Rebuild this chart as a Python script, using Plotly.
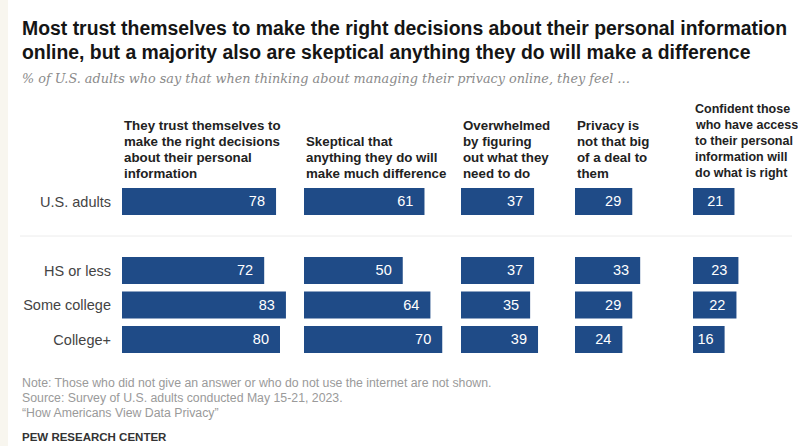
import plotly.graph_objects as go

# ---- data ----
groups = ["U.S. adults", " ", "HS or less", "Some college", "College+"]
headers = [
    "They trust themselves to<br>make the right decisions<br>about their personal<br>information",
    "Skeptical that<br>anything they do will<br>make much difference",
    "Overwhelmed<br>by figuring<br>out what they<br>need to do",
    "Privacy is<br>not that big<br>of a deal to<br>them",
    "Confident those<br>who have access<br>to their personal<br>information will<br>do what is right",
]
trust_self = [78, None, 72, 83, 80]
skeptical = [61, None, 50, 64, 70]
overwhelmed = [37, None, 37, 35, 39]
not_big_deal = [29, None, 33, 29, 24]
confident_others = [21, None, 23, 22, 16]
series = [trust_self, skeptical, overwhelmed, not_big_deal, confident_others]

title_lines = [
    "Most trust themselves to make the right decisions about their personal information",
    "online, but a majority also are skeptical anything they do will make a difference",
]
subtitle = "% of U.S. adults who say that when thinking about managing their privacy online, they feel …"
notes = [
    "Note: Those who did not give an answer or who do not use the internet are not shown.",
    "Source: Survey of U.S. adults conducted May 15-21, 2023.",
    "“How Americans View Data Privacy”",
]
credit = "PEW RESEARCH CENTER"

# ---- layout helpers ----
W, H = 798, 446
def px(p):
    return p / W
def py(p):
    return 1 - p / H

BAR = "#1f4b87"
SANS = "Liberation Sans"
panel_starts = [122, 304, 461, 575, 693]
panel_ends = [302, 459, 573, 691, 792]
header_sizes = [13.3, 13.3, 13.3, 13.3, 12.5]
PPU = 1.975  # pixels per percentage point
LEFT = 20
HEADER_LAST_LINE = 173
HEADER_LINE_H = 16

fig = go.Figure()
for i, vals in enumerate(series):
    ax = "x" if i == 0 else f"x{i+1}"
    fig.add_trace(go.Bar(
        x=vals, y=groups, orientation="h", xaxis=ax, yaxis="y",
        marker=dict(color=BAR, line=dict(width=0)),
        texttemplate="%{x}\u00a0\u00a0", textposition="inside",
        insidetextanchor="end",
        textfont=dict(color="white", size=14.5, family=SANS),
        hoverinfo="skip", showlegend=False,
    ))

layout_axes = {}
for i, (s, e) in enumerate(zip(panel_starts, panel_ends)):
    name = "xaxis" if i == 0 else f"xaxis{i+1}"
    layout_axes[name] = dict(
        domain=[px(s), px(e)], range=[0, (e - s) / PPU], anchor="y",
        visible=False, fixedrange=True,
    )

row_px = 34.5
y_top = 201.5 - row_px / 2
y_bot = y_top + row_px * len(groups)
layout_axes["yaxis"] = dict(
    domain=[py(y_bot), py(y_top)],
    categoryorder="array", categoryarray=groups,
    range=[len(groups) - 0.5, -0.5],
    showgrid=False, zeroline=False, showline=False,
    ticks="", ticklabelstandoff=10, fixedrange=True,
    tickfont=dict(size=14.5, color="#444", family=SANS),
)

annotations = []
for txt, yc in zip(title_lines, [27.5, 51.5]):
    annotations.append(dict(
        text=f"<b>{txt}</b>", x=px(LEFT), y=py(yc), xref="paper", yref="paper",
        xanchor="left", yanchor="middle", showarrow=False, align="left",
        font=dict(size=19.4, color="#151515", family=SANS),
    ))
annotations.append(dict(
    text=f"<i>{subtitle}</i>", x=px(LEFT), y=py(79), xref="paper", yref="paper",
    xanchor="left", yanchor="middle", showarrow=False, align="left",
    font=dict(size=12.8, color="#8a8a8a", family="DejaVu Serif"),
))
for s, h, fs in zip(panel_starts, headers, header_sizes):
    lines = h.split("<br>")
    n = len(lines)
    for k, line in enumerate(lines):
        yc = HEADER_LAST_LINE - (n - 1 - k) * HEADER_LINE_H
        annotations.append(dict(
            text=f"<b>{line}</b>", x=px(s), y=py(yc), xref="paper", yref="paper",
            xanchor="left", yanchor="middle", showarrow=False, align="left",
            font=dict(size=fs, color="#222", family=SANS),
        ))
for txt, yc in zip(notes, [383, 398, 413]):
    annotations.append(dict(
        text=txt, x=px(LEFT), y=py(yc), xref="paper", yref="paper",
        xanchor="left", yanchor="middle", showarrow=False, align="left",
        font=dict(size=12.3, color="#9a9a9a", family=SANS),
    ))
annotations.append(dict(
    text=f"<b>{credit}</b>", x=px(LEFT), y=py(437), xref="paper", yref="paper",
    xanchor="left", yanchor="middle", showarrow=False, align="left",
    font=dict(size=11.5, color="#333", family=SANS),
))

shapes = [
    dict(type="rect", xref="paper", yref="paper", x0=0, x1=px(8), y0=0, y1=1,
         fillcolor="#f8f6ef", line=dict(width=0), layer="below"),
    dict(type="line", xref="paper", yref="paper", x0=px(20), x1=px(792),
         y0=py(236), y1=py(236), line=dict(color="#ececec", width=1)),
]

fig.update_layout(
    width=W, height=H, margin=dict(l=0, r=0, t=0, b=0),
    paper_bgcolor="white", plot_bgcolor="rgba(0,0,0,0)",
    bargap=0.22, annotations=annotations, shapes=shapes,
    font=dict(family=SANS),
    **layout_axes,
)

fig.write_html("out.html", config={"displayModeBar": False},
               post_script="document.body.style.margin='0';")
